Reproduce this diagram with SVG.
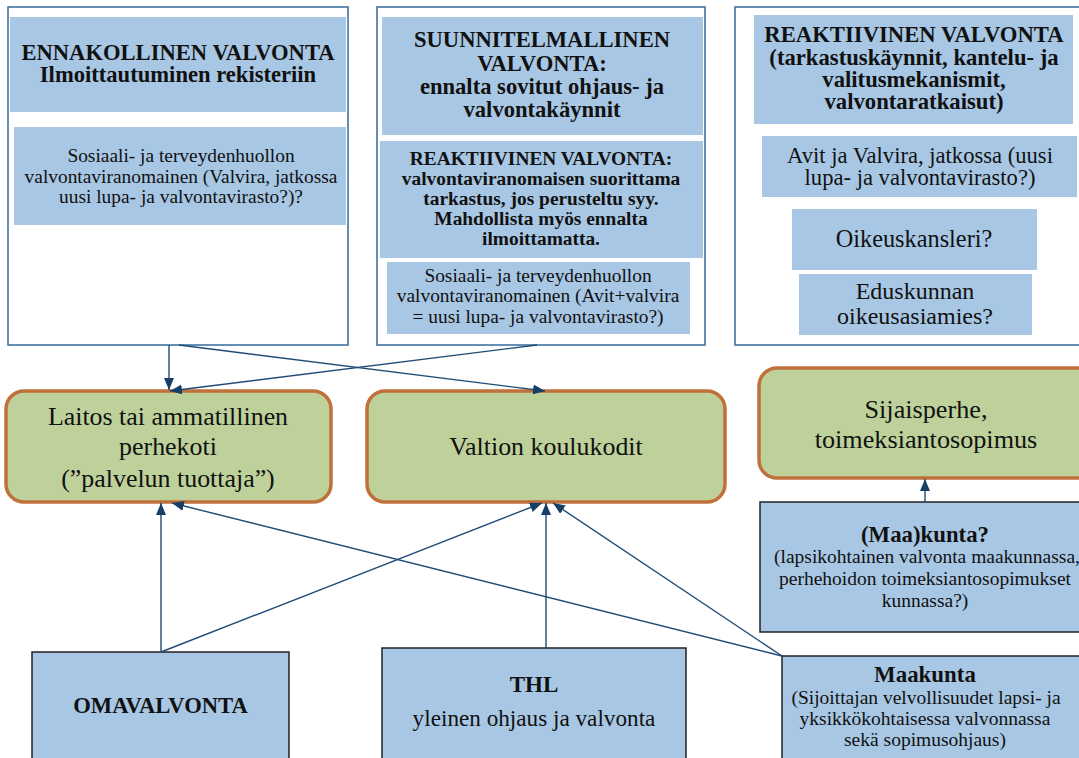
<svg xmlns="http://www.w3.org/2000/svg" width="1079" height="758" viewBox="0 0 1079 758">
<defs>
<marker id="arr" markerUnits="userSpaceOnUse" markerWidth="12" markerHeight="10" refX="12" refY="5" orient="auto">
<path d="M0,0 L12,5 L0,10 z" fill="#173f66"/>
</marker>
<style>
text{font-family:"Liberation Serif","Times New Roman",serif;fill:#111;text-anchor:middle}
.b{font-weight:bold}
.outer{fill:#fff;stroke:#336a9c;stroke-width:1.5}
.blue{fill:#a8c7e4}
.bbox{fill:#a8c7e4;stroke:#222;stroke-width:1.5}
.green{fill:#bed19a;stroke:#c0703a;stroke-width:3.5}
.con line{stroke:#1f4c77;stroke-width:1.4;marker-end:url(#arr)}
</style>
</defs>
<rect width="1079" height="758" fill="#fff"/>

<g id="ennakollinen">
<rect class="outer" x="8" y="7" width="340" height="338"/>
<rect class="blue" x="10" y="17" width="336" height="95"/>
<text class="b" x="178" y="60" font-size="22.6">ENNAKOLLINEN VALVONTA</text>
<text class="b" x="178" y="82" font-size="22.6">Ilmoittautuminen rekisteriin</text>
<rect class="blue" x="14" y="127" width="332" height="98"/>
<text x="181" y="162" font-size="19.4">Sosiaali- ja terveydenhuollon</text>
<text x="181" y="183" font-size="19.4">valvontaviranomainen (Valvira, jatkossa</text>
<text x="181" y="203" font-size="19.4">uusi lupa- ja valvontavirasto?)?</text>
</g>

<g id="suunnitelmallinen">
<rect class="outer" x="377" y="7" width="328" height="338"/>
<rect class="blue" x="382" y="17" width="321" height="118"/>
<text class="b" x="542" y="47" font-size="22.6">SUUNNITELMALLINEN</text>
<text class="b" x="542" y="71" font-size="22.6">VALVONTA:</text>
<text class="b" x="542" y="94" font-size="22.6">ennalta sovitut ohjaus- ja</text>
<text class="b" x="542" y="117" font-size="22.6">valvontakäynnit</text>
<rect class="blue" x="380" y="141" width="323" height="117"/>
<text class="b" x="541" y="165" font-size="19.4">REAKTIIVINEN VALVONTA:</text>
<text class="b" x="541" y="185" font-size="19.4">valvontaviranomaisen suorittama</text>
<text class="b" x="541" y="205" font-size="19.4">tarkastus, jos perusteltu syy.</text>
<text class="b" x="541" y="225" font-size="19.4">Mahdollista myös ennalta</text>
<text class="b" x="541" y="245" font-size="19.4">ilmoittamatta.</text>
<rect class="blue" x="387" y="262" width="303" height="72"/>
<text x="538" y="282" font-size="19.4">Sosiaali- ja terveydenhuollon</text>
<text x="538" y="302" font-size="19.4">valvontaviranomainen (Avit+valvira</text>
<text x="538" y="323" font-size="19.4">= uusi lupa- ja valvontavirasto?)</text>
</g>

<g id="reaktiivinen">
<rect class="outer" x="735" y="7" width="360" height="338"/>
<rect class="blue" x="754" y="15" width="319" height="109"/>
<text class="b" x="914" y="42" font-size="22.7">REAKTIIVINEN VALVONTA</text>
<text class="b" x="914" y="65" font-size="22.7">(tarkastuskäynnit, kantelu- ja</text>
<text class="b" x="914" y="87" font-size="22.7">valitusmekanismit,</text>
<text class="b" x="914" y="109" font-size="22.7">valvontaratkaisut)</text>
<rect class="blue" x="762" y="136" width="315" height="61"/>
<text x="920" y="163" font-size="22.6">Avit ja Valvira, jatkossa (uusi</text>
<text x="920" y="185" font-size="22.6">lupa- ja valvontavirasto?)</text>
<rect class="blue" x="792" y="209" width="245" height="61"/>
<text x="914" y="247" font-size="24.3">Oikeuskansleri?</text>
<rect class="blue" x="799" y="274" width="233" height="61"/>
<text x="915" y="299" font-size="24">Eduskunnan</text>
<text x="915" y="324" font-size="24">oikeusasiamies?</text>
</g>

<g id="laitos">
<rect class="green" x="6" y="391" width="325" height="111" rx="18"/>
<text x="168" y="425" font-size="25.9">Laitos tai ammatillinen</text>
<text x="168" y="455" font-size="25.9">perhekoti</text>
<text x="168" y="487" font-size="25.9">(”palvelun tuottaja”)</text>
</g>

<g id="valtion">
<rect class="green" x="367" y="391" width="358" height="111" rx="18"/>
<text x="546" y="455" font-size="25.9">Valtion koulukodit</text>
</g>

<g id="sijaisperhe">
<rect class="green" x="759" y="368" width="340" height="110" rx="18"/>
<text x="926" y="418" font-size="26.2">Sijaisperhe,</text>
<text x="926" y="448" font-size="26.2">toimeksiantosopimus</text>
</g>

<g id="maakunta-kunta">
<rect class="bbox" x="760" y="502" width="340" height="130"/>
<text class="b" x="925" y="542" font-size="22.8">(Maa)kunta?</text>
<text x="927" y="563" font-size="19.5">(lapsikohtainen valvonta maakunnassa,</text>
<text x="925" y="585" font-size="19.5">perhehoidon toimeksiantosopimukset</text>
<text x="925" y="607" font-size="19.5">kunnassa?)</text>
</g>

<g id="omavalvonta">
<rect class="bbox" x="32" y="652" width="257" height="120"/>
<text class="b" x="160.5" y="713" font-size="22.6">OMAVALVONTA</text>
</g>

<g id="thl">
<rect class="bbox" x="382" y="648" width="304" height="120"/>
<text class="b" x="534" y="692" font-size="23">THL</text>
<text x="534" y="726" font-size="23.2">yleinen ohjaus ja valvonta</text>
</g>

<g id="maakunta">
<rect class="bbox" x="782" y="656" width="320" height="120"/>
<text class="b" x="925" y="682" font-size="22.9">Maakunta</text>
<text x="926" y="704" font-size="19.5">(Sijoittajan velvollisuudet lapsi- ja</text>
<text x="925" y="725" font-size="19.5">yksikkökohtaisessa valvonnassa</text>
<text x="925" y="746" font-size="19.5">sekä sopimusohjaus)</text>
</g>

<g id="connectors" class="con">
<line x1="169" y1="345" x2="169" y2="390"/>
<line x1="179" y1="345" x2="545" y2="391"/>
<line x1="537" y1="345" x2="170" y2="391"/>
<line x1="161" y1="652" x2="161" y2="503"/>
<line x1="161" y1="652" x2="542" y2="503"/>
<line x1="546" y1="648" x2="546" y2="503"/>
<line x1="782" y1="656" x2="172" y2="503"/>
<line x1="782" y1="656" x2="553" y2="503"/>
<line x1="925" y1="502" x2="925" y2="479"/>
</g>
</svg>
